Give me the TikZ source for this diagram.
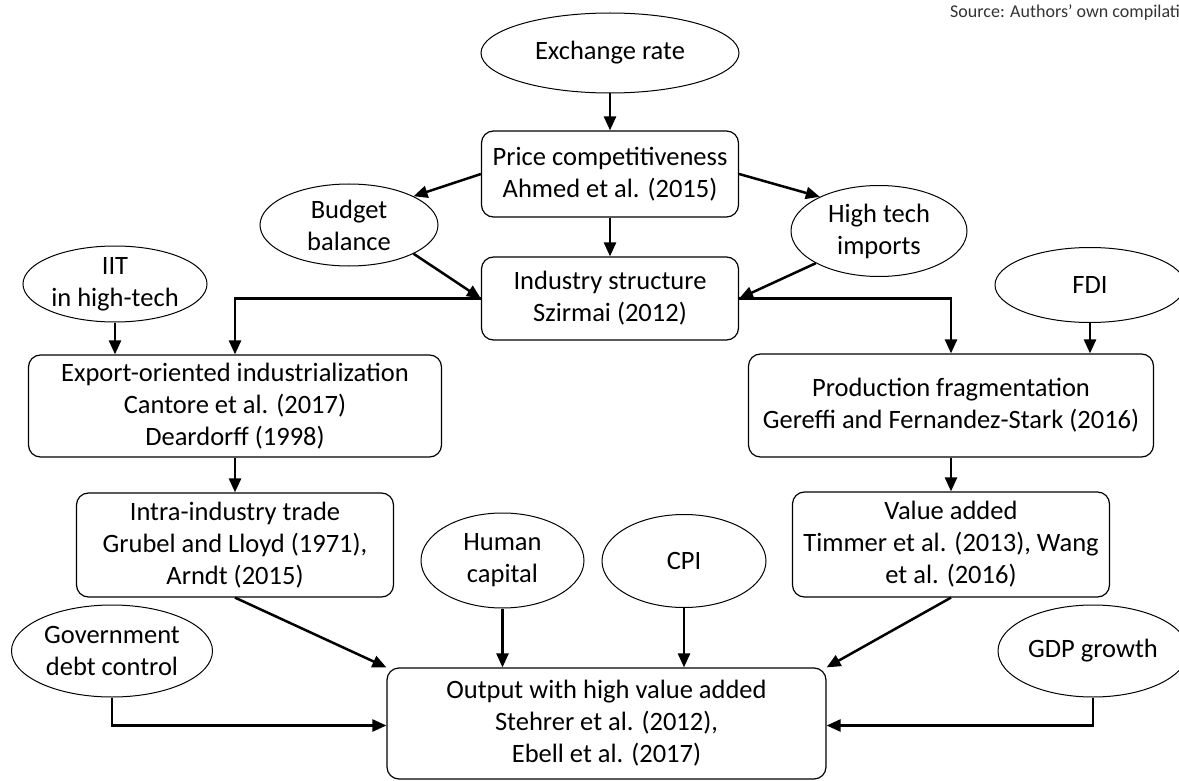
\documentclass[tikz,border=0pt]{standalone}
\usepackage{fontspec}
\setmainfont{Carlito}
\usetikzlibrary{shapes.geometric,arrows.meta}
\begin{document}
\begin{tikzpicture}[x=1pt,y=-1pt,
  box/.style={draw, line width=1.2pt, rounded corners=12pt, align=center, inner sep=0pt, font=\fontsize{26.5}{32}\selectfont},
  oval/.style={draw, ellipse, line width=1pt, align=center, inner sep=-40pt, font=\fontsize{26.5}{32}\selectfont},
  arr/.style={line width=2.5pt, -{Triangle[length=14pt,width=12pt]}},
  plain/.style={line width=2.5pt}
]
\path[use as bounding box] (0,0) rectangle (1179,781);
\clip (0,0) rectangle (1179,781);

\node[oval, minimum width=258pt, minimum height=80pt] (ex) at (610,53) {Exchange rate};
\node[box, minimum width=257pt, minimum height=86pt] (pc) at (610,174) {Price competitiveness\\Ahmed et al. (2015)};
\node[box, minimum width=257pt, minimum height=83pt] (is) at (610,298.5) {Industry structure\\Szirmai (2012)};
\node[oval, minimum width=178pt, minimum height=82pt] (bb) at (349,225) {Budget\\balance};
\node[oval, minimum width=176pt, minimum height=91pt] (ht) at (879,231) {High tech\\imports};
\node[oval, minimum width=184pt, minimum height=76pt] (iit) at (115,284) {IIT\\in high-tech};
\node[oval, minimum width=190pt, minimum height=75pt] (fdi) at (1090,285) {FDI};
\node[box, minimum width=413pt, minimum height=102pt] (eo) at (235,406) {Export-oriented industrialization\\Cantore et al. (2017)\\Deardorff (1998)};
\node[box, minimum width=405pt, minimum height=103pt] (pf) at (951,405.5) {Production fragmentation\\Gereffi and Fernandez-Stark (2016)};
\node[box, minimum width=317pt, minimum height=104pt] (it) at (235,545) {Intra-industry trade\\Grubel and Lloyd (1971),\\Arndt (2015)};
\node[box, minimum width=317pt, minimum height=105pt] (va) at (951,544.5) {Value added\\Timmer et al. (2013), Wang\\et al. (2016)};
\node[oval, minimum width=163pt, minimum height=95pt] (hc) at (502.5,560.5) {Human\\capital};
\node[oval, minimum width=164pt, minimum height=93pt] (cpi) at (684,561) {CPI};
\node[oval, minimum width=201pt, minimum height=92pt] (gov) at (112,651) {Government\\debt control};
\node[oval, minimum width=190pt, minimum height=92pt] (gdp) at (1093,651) {GDP growth};
\node[box, minimum width=439pt, minimum height=111pt] (out) at (606.5,723.5) {Output with high value added\\Stehrer et al. (2012),\\Ebell et al. (2017)};
\node[anchor=west, font=\fontsize{18}{21}\selectfont, text=black!80, inner sep=0pt] (src) at (950,13) {Source: Authors’ own compilation};

\draw[arr] (ex.south) -- (ex.south |- pc.north);
\draw[arr] (pc.south) -- (is.north);
\draw[arr] (pc.west) -- (bb.24);
\draw[arr] (pc.east) -- (ht.150);
\draw[arr] (bb.-24) -- (is.west);
\draw[arr] (ht.207) -- (is.east);
\draw[arr] (is.west) -| (eo.north);
\draw[arr] (is.east) -| (pf.north);
\draw[arr] (iit.south) -- (iit.south |- eo.north);
\draw[arr] (fdi.south) -- (fdi.south |- pf.north);
\draw[arr] (eo.south) -- (it.north);
\draw[arr] (pf.south) -- (va.north);
\draw[arr] (it.south) -- (out.north west);
\draw[arr] (va.south) -- (out.north east);
\draw[arr] (hc.south) -- (hc.south |- out.north);
\draw[arr] (cpi.south) -- (cpi.south |- out.north);
\draw[arr] (gov.south) |- ([yshift=-2pt]out.west);
\draw[arr] (gdp.south) |- ([yshift=-2pt]out.east);
\end{tikzpicture}
\end{document}
